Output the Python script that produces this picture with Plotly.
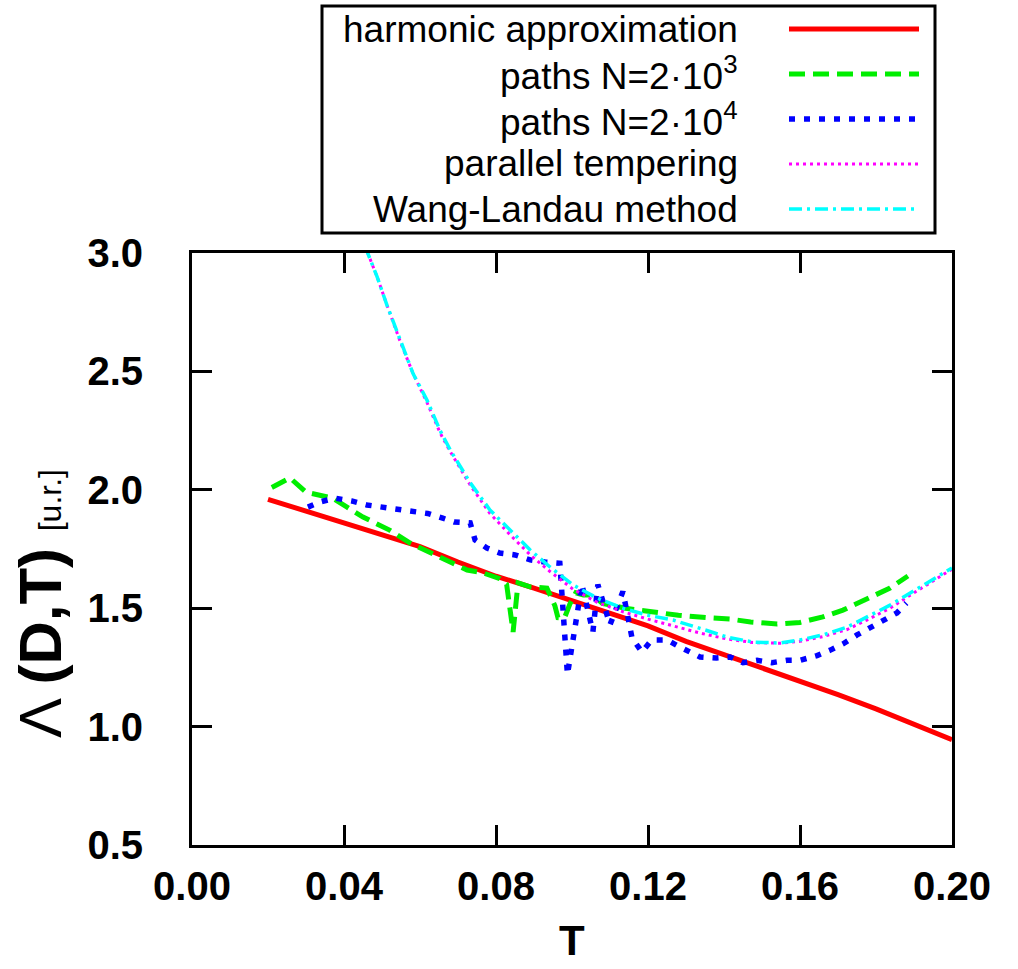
import plotly.graph_objects as go

# ---- data ----
harm_T = [0.02, 0.03, 0.04, 0.05, 0.06, 0.07, 0.08, 0.09, 0.10, 0.11, 0.12, 0.13,
          0.14, 0.15, 0.16, 0.17, 0.18, 0.19, 0.20]
harm_L = [1.96, 1.91, 1.865, 1.81, 1.76, 1.695, 1.635, 1.585, 1.53, 1.477, 1.425, 1.36,
          1.305, 1.25, 1.19, 1.135, 1.075, 1.01, 0.945]

p3_T = [0.021, 0.0258, 0.030, 0.037, 0.045, 0.052, 0.0574, 0.0653, 0.0724, 0.0766, 0.081,
        0.0828, 0.0845, 0.0858, 0.089, 0.0934, 0.0955, 0.0963, 0.098, 0.0995, 0.101,
        0.103, 0.1055, 0.108, 0.112, 0.114, 0.121, 0.128, 0.1355, 0.1416, 0.147, 0.154,
        0.16, 0.166, 0.1713, 0.1784, 0.1837, 0.1884]
p3_L = [2.01, 2.05, 1.99, 1.965, 1.885, 1.83, 1.775, 1.712, 1.661, 1.649, 1.625,
        1.60, 1.40, 1.607, 1.59, 1.585, 1.51, 1.46, 1.458, 1.52, 1.565,
        1.556, 1.556, 1.52, 1.505, 1.50, 1.485, 1.47, 1.46, 1.454, 1.442, 1.433,
        1.44, 1.463, 1.492, 1.543, 1.585, 1.636]

p4_T = [0.0305, 0.034, 0.0376, 0.042, 0.046, 0.054, 0.058, 0.062, 0.066, 0.069, 0.0732,
        0.0745, 0.0776, 0.081, 0.085, 0.089, 0.0929, 0.0968, 0.0988, 0.1026, 0.1055,
        0.1068, 0.110, 0.1134, 0.1158, 0.1184, 0.121, 0.125, 0.1284, 0.1337, 0.138,
        0.1416, 0.145, 0.1487, 0.1526, 0.1566, 0.16, 0.1645, 0.168, 0.1713, 0.175,
        0.1784, 0.182, 0.1855, 0.188]
p4_L = [1.927, 1.95, 1.965, 1.953, 1.936, 1.92, 1.91, 1.90, 1.88, 1.864, 1.86,
        1.788, 1.754, 1.733, 1.725, 1.704, 1.695, 1.69, 1.22, 1.60, 1.40,
        1.60, 1.43, 1.57, 1.374, 1.315, 1.366, 1.366, 1.336, 1.294, 1.29,
        1.294, 1.27, 1.28, 1.27, 1.28, 1.28, 1.30, 1.323, 1.349, 1.387,
        1.416, 1.446, 1.48, 1.522]

pt_T = [0.0455, 0.0487, 0.0513, 0.0547, 0.0582, 0.0618, 0.0653, 0.068, 0.0732, 0.0784,
        0.0837, 0.089, 0.0942, 0.1003, 0.1066, 0.1134, 0.1197, 0.1266, 0.1337, 0.1408,
        0.1476, 0.1547, 0.16, 0.166, 0.1724, 0.1776, 0.1837, 0.189, 0.195, 0.20]
pt_L = [3.03, 2.90, 2.78, 2.63, 2.49, 2.37, 2.24, 2.16, 2.02, 1.90,
        1.81, 1.725, 1.655, 1.58, 1.525, 1.485, 1.455, 1.425, 1.395, 1.37,
        1.355, 1.352, 1.36, 1.38, 1.41, 1.45, 1.50, 1.555, 1.615, 1.665]

wl_T = [0.0455, 0.0487, 0.0513, 0.0547, 0.0582, 0.0618, 0.0653, 0.068, 0.0732, 0.0784,
        0.0837, 0.089, 0.0942, 0.1003, 0.1066, 0.1134, 0.1197, 0.1266, 0.1337, 0.1408,
        0.1476, 0.1547, 0.16, 0.166, 0.1724, 0.1776, 0.1837, 0.189, 0.195, 0.20]
wl_L = [3.03, 2.90, 2.78, 2.633, 2.49, 2.38, 2.25, 2.167, 2.03, 1.915,
        1.83, 1.746, 1.674, 1.598, 1.543, 1.50, 1.471, 1.45, 1.415, 1.378,
        1.357, 1.353, 1.366, 1.387, 1.42, 1.463, 1.513, 1.564, 1.62, 1.67]

x_ticks = [0.00, 0.04, 0.08, 0.12, 0.16, 0.20]
x_tick_labels = ["0.00", "0.04", "0.08", "0.12", "0.16", "0.20"]
y_ticks = [0.5, 1.0, 1.5, 2.0, 2.5, 3.0]
y_tick_labels = ["0.5", "1.0", "1.5", "2.0", "2.5", "3.0"]

series = [
    ("harmonic approximation", harm_T, harm_L, "#ff0000", 5, "solid"),
    ("paths N=2·10<sup>3</sup>", p3_T, p3_L, "#00ee00", 5, "16px,8px"),
    ("paths N=2·10<sup>4</sup>", p4_T, p4_L, "#0000ff", 5.5, "6px,9px"),
    ("parallel tempering", pt_T, pt_L, "#ff00ff", 3, "3px,4px"),
    ("Wang-Landau method", wl_T, wl_L, "#00ffff", 3.5, "13px,5px,3px,5px"),
]

FONT = "Liberation Sans, Arial, sans-serif"

fig = go.Figure()
for name, xs, ys, col, w, dash in series:
    fig.add_trace(go.Scatter(x=xs, y=ys, mode="lines", name=name,
                             line=dict(color=col, width=w, dash=dash),
                             showlegend=False))

W, H = 1018, 969
L, R, T, B = 192, 66, 253, 124
pw, ph = W - L - R, H - T - B

def px2paper_x(px):
    return (px - L) / pw

def px2paper_y(py):
    return (H - B - py) / ph

# manual gnuplot-style legend: right-aligned text, sample line on the right
row_y = [29, 74, 119, 164, 209]
shapes = [dict(type="rect", xref="paper", yref="paper",
               x0=px2paper_x(322), x1=px2paper_x(935),
               y0=px2paper_y(233), y1=px2paper_y(6),
               line=dict(color="black", width=3), fillcolor="white", layer="above")]
annotations = []
for (name, xs, ys, col, w, dash), ry in zip(series, row_y):
    annotations.append(dict(xref="paper", yref="paper", x=px2paper_x(740), y=px2paper_y(ry),
                            xanchor="right", yanchor="middle", text=name, showarrow=False,
                            font=dict(family=FONT, size=37, color="black")))
    shapes.append(dict(type="line", xref="paper", yref="paper",
                       x0=px2paper_x(789), x1=px2paper_x(919),
                       y0=px2paper_y(ry), y1=px2paper_y(ry),
                       line=dict(color=col, width=w, dash=dash), layer="above"))

# y axis title (rotated)
annotations.append(dict(xref="paper", yref="paper", x=px2paper_x(40), y=px2paper_y(604),
                        xanchor="center", yanchor="middle", textangle=-90, showarrow=False,
                        text="Λ <b>(D,T)</b> <span style='font-size:32px'>[u.r.]</span>",
                        font=dict(family=FONT, size=60, color="black")))

# x axis title
annotations.append(dict(xref="paper", yref="paper", x=0.5, y=px2paper_y(940),
                        xanchor="center", yanchor="middle", showarrow=False, text="<b>T</b>",
                        font=dict(family=FONT, size=42, color="black")))

fig.update_layout(
    width=W, height=H,
    margin=dict(l=L, r=R, t=T, b=B, pad=0, autoexpand=False),
    paper_bgcolor="white", plot_bgcolor="white",
    shapes=shapes, annotations=annotations,
    showlegend=False,
)
fig.update_xaxes(range=[0, 0.2], tickvals=x_ticks, ticktext=x_tick_labels,
                 ticks="inside", ticklen=20, tickwidth=3, tickcolor="black",
                 showline=True, linewidth=3, linecolor="black", mirror="ticks",
                 showgrid=False, zeroline=False, ticklabelstandoff=4, automargin=False,
                 tickfont=dict(family=FONT, size=40, color="black", weight="bold"))
fig.update_yaxes(range=[0.5, 3.0], tickvals=y_ticks, ticktext=y_tick_labels,
                 ticks="inside", ticklen=20, tickwidth=3, tickcolor="black",
                 showline=True, linewidth=3, linecolor="black", mirror="ticks",
                 showgrid=False, zeroline=False, ticklabelstandoff=38, automargin=False,
                 tickfont=dict(family=FONT, size=40, color="black", weight="bold"))

fig.write_html("out.html")
